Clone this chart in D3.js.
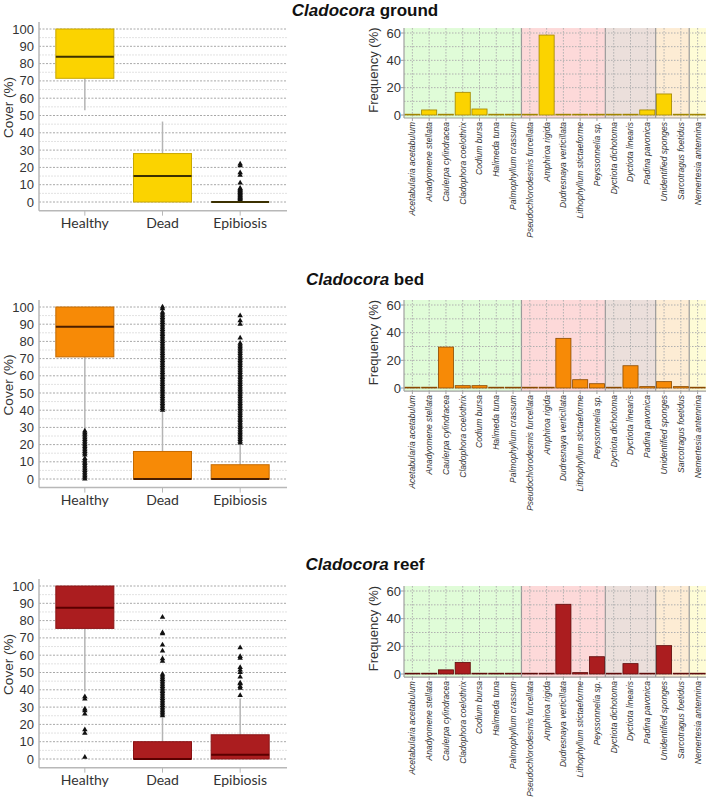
<!DOCTYPE html>
<html>
<head>
<meta charset="utf-8">
<script src="https://cdn.jsdelivr.net/npm/d3@7"></script>
<style>
  body { margin: 0; background: #fff; }
  svg { display: block; }
</style>
</head>
<body>
<svg id="chart" width="709" height="797"></svg>
<script>
const boxCategories = ['Healthy', 'Dead', 'Epibiosis']
const coverTicks = [0, 10, 20, 30, 40, 50, 60, 70, 80, 90, 100]
const freqTicks = [0, 20, 40, 60]
const habitats = ['ground', 'bed', 'reef']

const species = [
  'Acetabularia acetabulum', 'Anadyomene stellata', 'Caulerpa cylindracea',
  'Cladophora coelothrix', 'Codium bursa', 'Halimeda tuna', 'Palmophyllum crassum',
  'Pseudochlorodesmis furcellata', 'Amphiroa rigida', 'Dudresnaya verticillata',
  'Lithophyllum stictaeforme', 'Peyssonnelia sp.', 'Dyctiota dichotoma',
  'Dyctiota linearis', 'Padina pavonica', 'Unidentified sponges',
  'Sarcotragus foetidus', 'Nemertesia antennina'
]
// 0 green algae, 1 red algae, 2 brown algae, 3 sponges, 4 hydrozoa
const speciesGroup = [0, 0, 0, 0, 0, 0, 0, 1, 1, 1, 1, 1, 2, 2, 2, 3, 3, 4]

// box stats: [q1, median, q3, lower whisker, upper whisker]
const groundStats = [[71.5, 84, 100, 53, 100], [0, 15, 28, 0, 46.5], [0, 0, 0, 0, 0]]
const groundOutliers = [
  [],
  [],
  [22, 21, 17, 15.5, 11, 8, 7.5, 7, 6.5, 6, 5.5, 5, 4.5, 4, 3.5, 3, 2.5, 2, 1.5]
]
const groundFreq = [0, 3.7, 0, 16.6, 4.4, 0, 0, 0, 58.5, 0, 0, 0, 0, 0, 3.7, 15.4, 0, 0]

const bedStats = [[71, 88.5, 100, 29, 100], [0, 0, 16, 0, 40], [0, 0, 8.3, 0, 20.5]]
const bedOutliers = [
  [0, 1, 2, 3, 4, 5, 6, 7, 8, 9, 10, 11, 12, 14, 15, 16, 17, 18, 19, 20, 21, 22, 23, 24, 25, 26, 27, 28],
  [40, 41, 42, 43, 44, 45, 46, 47, 48, 49, 50, 51, 52, 53, 54, 55, 56, 57, 58, 59, 60, 61, 62, 63, 64, 65,
    66, 67, 68, 69, 70, 71, 72, 73, 74, 75, 76, 77, 78, 79, 80, 81, 82, 83, 84, 85, 86, 87, 88, 89, 90,
    91, 92, 93, 94, 95, 96, 97, 99, 100],
  [21, 22, 23, 24, 25, 26, 27, 28, 29, 30, 31, 32, 33, 34, 35, 36, 37, 38, 39, 40, 41, 42, 43, 44, 45,
    46, 47, 48, 49, 50, 51, 52, 53, 54, 55, 56, 57, 58, 59, 60, 61, 62, 63, 64, 65, 66, 67, 68, 69, 70,
    71, 72, 73, 74, 75, 76, 77, 78, 79, 82, 90, 92, 95]
]
const bedFreq = [0.3, 0.3, 29.6, 1.7, 1.7, 0.3, 0, 0.3, 0, 35.9, 6, 3.1, 0.3, 16.1, 1, 4.6, 1, 0]

const reefStats = [[75.5, 87.5, 100, 39, 100], [0, 0, 10, 0, 24], [0, 2.5, 14, 0, 35]]
const reefOutliers = [
  [36, 34.7, 29, 28, 26, 17, 15, 1],
  [25, 26, 27, 28, 29, 30, 31, 32, 33, 34, 35, 36, 37, 38, 39, 40, 41, 42, 43, 44, 45, 46, 47, 48, 49,
    56.5, 58, 62.5, 66, 72.5, 73, 82],
  [36.7, 41, 42, 43.5, 44, 47.5, 50, 51.5, 53, 58.3, 59.3, 64.4]
]
const reefFreq = [0, 0, 3, 8.4, 0, 0, 0, 0, 0, 50.4, 1, 12.5, 0, 7.5, 0.5, 20.5, 0, 0]

// ---- styles / layout ----
const groupFills = ['#e0fcd8', '#fdd9d9', '#ebdfdb', '#fdecd4', '#fefcd6']
const panels = [
  { stats: groundStats, outliers: groundOutliers, freq: groundFreq, boxTop: 29, boxZero: 202, barTop: 33, barZero: 115, titleY: 16,
    fill: '#fbd300', stroke: '#c9a800', median: '#3b3000', barStroke: '#a08600' },
  { stats: bedStats, outliers: bedOutliers, freq: bedFreq, boxTop: 307, boxZero: 479, barTop: 305, barZero: 388, titleY: 285,
    fill: '#f78a06', stroke: '#c46a00', median: '#4a1e00', barStroke: '#8a4a00' },
  { stats: reefStats, outliers: reefOutliers, freq: reefFreq, boxTop: 586, boxZero: 759, barTop: 591, barZero: 674, titleY: 570,
    fill: '#ab1d1f', stroke: '#8a1214', median: '#5a0000', barStroke: '#5e0a0a' }
]

const svg = d3.select('#chart')

const xBox = d3.scalePoint().domain(boxCategories).range([46, 279]).padding(0.5)
const boxWidth = 58
const xBar = d3.scaleBand().domain(species).range([404, 706]).paddingInner(0.1).paddingOuter(0.05)

panels.forEach((p, i) => drawPanel(p, habitats[i]))

function drawPanel (p, habitat) {
  // title
  const title = svg.append('text')
    .attr('x', 365)
    .attr('y', p.titleY)
    .attr('text-anchor', 'middle')
    .attr('font-family', 'Liberation Sans, Arial, sans-serif')
    .attr('font-size', 17)
    .attr('font-weight', 'bold')
    .attr('fill', '#111')
  title.append('tspan').attr('font-style', 'italic').text('Cladocora')
  title.append('tspan').text(' ' + habitat)

  drawBoxplot(p)
  drawBars(p)
}

function drawBoxplot (p) {
  const y = d3.scaleLinear().domain([0, 100]).range([p.boxZero, p.boxTop])
  const g = svg.append('g')
  const x0 = 39
  const x1 = 287

  // minor grid
  g.selectAll('.minor')
    .data(coverTicks.slice(0, -1))
    .enter().append('line')
    .attr('x1', x0).attr('x2', x1)
    .attr('y1', (d) => y(d + 5)).attr('y2', (d) => y(d + 5))
    .attr('stroke', '#e2e2e2')
    .attr('stroke-dasharray', '2,1')

  // major grid
  g.selectAll('.major')
    .data(coverTicks)
    .enter().append('line')
    .attr('x1', x0).attr('x2', x1)
    .attr('y1', (d) => y(d)).attr('y2', (d) => y(d))
    .attr('stroke', '#a8a8a8')
    .attr('stroke-dasharray', '2,1.5')

  g.selectAll('.tick-label')
    .data(coverTicks)
    .enter().append('text')
    .attr('x', 34)
    .attr('y', (d) => y(d))
    .attr('dy', '0.35em')
    .attr('text-anchor', 'end')
    .attr('font-family', 'Liberation Sans, Arial, sans-serif')
    .attr('font-size', 13)
    .attr('fill', '#333')
    .text((d) => d)

  // axes
  g.append('line')
    .attr('x1', x0).attr('x2', x0)
    .attr('y1', y(104)).attr('y2', y(-5))
    .attr('stroke', '#b8b8b8').attr('stroke-width', 1.5)
  g.append('line')
    .attr('x1', x0).attr('x2', x1)
    .attr('y1', y(-5)).attr('y2', y(-5))
    .attr('stroke', '#b8b8b8').attr('stroke-width', 1.5)
  g.selectAll('.xtick')
    .data(boxCategories)
    .enter().append('line')
    .attr('x1', (d) => xBox(d)).attr('x2', (d) => xBox(d))
    .attr('y1', y(-5)).attr('y2', y(-5) + 5)
    .attr('stroke', '#b8b8b8')
  g.selectAll('.xlabel')
    .data(boxCategories)
    .enter().append('text')
    .attr('x', (d) => xBox(d))
    .attr('y', y(0) + 26)
    .attr('text-anchor', 'middle')
    .attr('font-family', 'Lato, Open Sans, sans-serif')
    .attr('font-size', 14)
    .attr('fill', '#333')
    .text((d) => d)

  g.append('text')
    .attr('transform', 'translate(13,' + ((p.boxTop + p.boxZero) / 2 - 8) + ') rotate(-90)')
    .attr('text-anchor', 'middle')
    .attr('font-family', 'Liberation Sans, Arial, sans-serif')
    .attr('font-size', 13.5)
    .attr('fill', '#333')
    .text('Cover (%)')

  // boxes
  boxCategories.forEach((cat, k) => {
    const [q1, med, q3, wLo, wHi] = p.stats[k]
    const cx = xBox(cat)
    g.append('line')
      .attr('x1', cx).attr('x2', cx)
      .attr('y1', y(wLo)).attr('y2', y(q1))
      .attr('stroke', '#b4b4b4').attr('stroke-width', 1.5)
    g.append('line')
      .attr('x1', cx).attr('x2', cx)
      .attr('y1', y(q3)).attr('y2', y(wHi))
      .attr('stroke', '#b4b4b4').attr('stroke-width', 1.5)
    g.append('rect')
      .attr('x', cx - boxWidth / 2)
      .attr('y', y(q3))
      .attr('width', boxWidth)
      .attr('height', Math.max(y(q1) - y(q3), 0))
      .attr('fill', p.fill)
      .attr('stroke', p.stroke)
    g.append('line')
      .attr('x1', cx - boxWidth / 2).attr('x2', cx + boxWidth / 2)
      .attr('y1', y(med)).attr('y2', y(med))
      .attr('stroke', p.median).attr('stroke-width', 2)

    g.selectAll(null)
      .data(p.outliers[k])
      .enter().append('path')
      .attr('d', d3.symbol(d3.symbolTriangle, 13))
      .attr('transform', (d) => 'translate(' + cx + ',' + y(d) + ')')
      .attr('fill', '#111')
  })
}

function drawBars (p) {
  const y = d3.scaleLinear().domain([0, 60]).range([p.barZero, p.barTop])
  const g = svg.append('g')
  const top = y(63.6)
  const bottom = y(-2.2)
  const step = xBar.step()
  const left = 404

  // group backgrounds
  const groups = d3.groups(species.map((s, i) => ({ s, grp: speciesGroup[i], i })), (d) => d.grp)
  groups.forEach(([grp, items]) => {
    const first = items[0].i
    const last = items[items.length - 1].i
    const gx0 = first === 0 ? left : xBar(species[first]) - step * xBar.paddingInner() / 2
    const gx1 = last === species.length - 1 ? 706 : xBar(species[last]) + xBar.bandwidth() + step * xBar.paddingInner() / 2
    g.append('rect')
      .attr('x', gx0).attr('y', top)
      .attr('width', gx1 - gx0).attr('height', bottom - top)
      .attr('fill', groupFills[grp])
    if (first !== 0) {
      g.append('line')
        .attr('x1', gx0).attr('x2', gx0)
        .attr('y1', top).attr('y2', bottom)
        .attr('stroke', '#9a9a9a').attr('stroke-width', 1.2)
    }
  })

  // grid
  g.selectAll('.hgrid')
    .data([0, 10, 20, 30, 40, 50, 60])
    .enter().append('line')
    .attr('x1', left).attr('x2', 706)
    .attr('y1', (d) => y(d)).attr('y2', (d) => y(d))
    .attr('stroke', '#b0b0b0')
    .attr('stroke-dasharray', '1.5,1.5')
  g.selectAll('.vgrid')
    .data(species)
    .enter().append('line')
    .attr('x1', (d) => xBar(d) + xBar.bandwidth() / 2)
    .attr('x2', (d) => xBar(d) + xBar.bandwidth() / 2)
    .attr('y1', top).attr('y2', bottom)
    .attr('stroke', '#b0b0b0')
    .attr('stroke-dasharray', '1.5,1.5')

  // bars
  g.selectAll('.bar')
    .data(p.freq)
    .enter().append('rect')
    .attr('x', (d, i) => xBar(species[i]))
    .attr('y', (d) => Math.min(y(d), y(0) - 0.8))
    .attr('width', xBar.bandwidth())
    .attr('height', (d) => Math.max(y(0) - y(d), 0.8))
    .attr('fill', p.fill)
    .attr('stroke', p.barStroke)
    .attr('stroke-width', 0.8)

  // axes
  g.append('line')
    .attr('x1', left).attr('x2', left)
    .attr('y1', top).attr('y2', bottom)
    .attr('stroke', '#a0a0a0').attr('stroke-width', 1.2)
  g.append('line')
    .attr('x1', left).attr('x2', 706)
    .attr('y1', bottom).attr('y2', bottom)
    .attr('stroke', '#a0a0a0').attr('stroke-width', 1.2)
  g.selectAll('.ytick')
    .data(freqTicks)
    .enter().append('line')
    .attr('x1', left - 3).attr('x2', left)
    .attr('y1', (d) => y(d)).attr('y2', (d) => y(d))
    .attr('stroke', '#a0a0a0')
  g.selectAll('.ylabel')
    .data(freqTicks)
    .enter().append('text')
    .attr('x', left - 3)
    .attr('y', (d) => y(d))
    .attr('dy', '0.35em')
    .attr('text-anchor', 'end')
    .attr('font-family', 'Liberation Sans, Arial, sans-serif')
    .attr('font-size', 13)
    .attr('fill', '#333')
    .text((d) => d)
  g.selectAll('.xtick')
    .data(species)
    .enter().append('line')
    .attr('x1', (d) => xBar(d) + xBar.bandwidth() / 2)
    .attr('x2', (d) => xBar(d) + xBar.bandwidth() / 2)
    .attr('y1', bottom).attr('y2', bottom + 3)
    .attr('stroke', '#a0a0a0')
  g.selectAll('.xlabel')
    .data(species)
    .enter().append('text')
    .attr('transform', (d) => 'translate(' + (xBar(d) + xBar.bandwidth() / 2) + ',' + (bottom + 4) + ') rotate(-90)')
    .attr('dy', '0.35em')
    .attr('text-anchor', 'end')
    .attr('font-family', 'Liberation Sans, Arial, sans-serif')
    .attr('font-style', 'italic')
    .attr('font-size', 8.5)
    .attr('fill', '#333')
    .text((d) => d)

  g.append('text')
    .attr('transform', 'translate(378,' + ((top + bottom) / 2 - 3) + ') rotate(-90)')
    .attr('text-anchor', 'middle')
    .attr('font-family', 'Liberation Sans, Arial, sans-serif')
    .attr('font-size', 13)
    .attr('fill', '#333')
    .text('Frequency (%)')
}
</script>
</body>
</html>
